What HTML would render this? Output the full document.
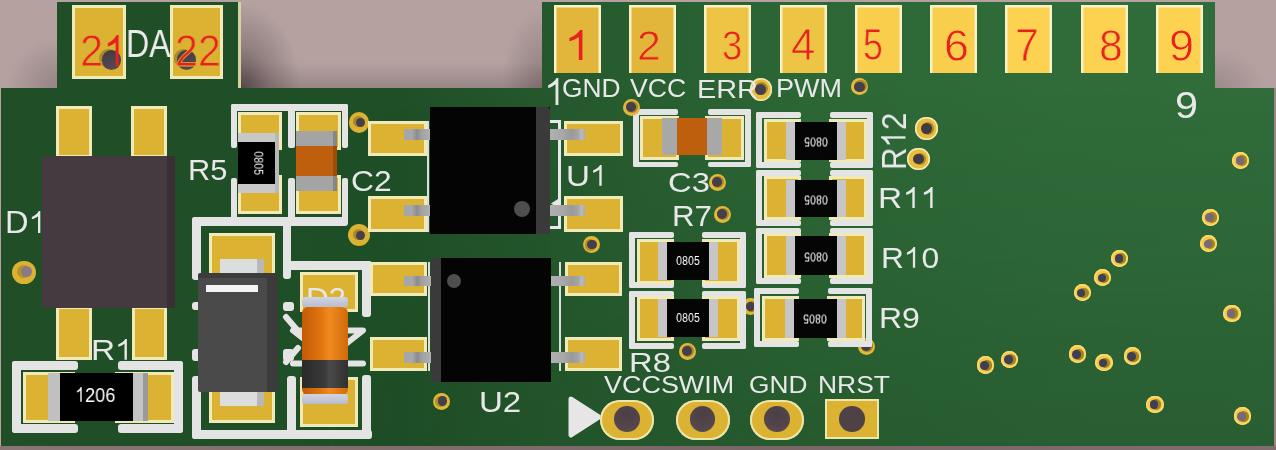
<!DOCTYPE html><html><head><meta charset="utf-8"><style>
html,body{margin:0;padding:0}
body{width:1276px;height:450px;overflow:hidden;position:relative;background:#b4a1a0;font-family:"Liberation Sans",sans-serif}
.a{position:absolute}
.t{line-height:1;white-space:nowrap;will-change:transform}
.one{width:.556em;height:.7em;vertical-align:baseline;fill:currentColor}
</style></head><body>
<div class="a " style="left:0px;top:446px;width:1276px;height:4px;background:linear-gradient(90deg,#8a7474,#7a6666 60%,#806c6c)"></div>
<div class="a " style="left:241px;top:0px;width:301px;height:88px;background:radial-gradient(ellipse 60px 85px at 0% 100%,rgba(50,36,40,.65),rgba(50,36,40,.25) 50%,rgba(50,36,40,0) 100%),linear-gradient(180deg,rgba(60,40,45,0) 70%,rgba(60,40,45,.22) 100%),radial-gradient(ellipse 40px 80px at 100% 100%,rgba(60,40,45,.3),rgba(60,40,45,0) 100%)"></div>
<div class="a " style="left:1215px;top:0px;width:61px;height:88px;background:radial-gradient(ellipse 50px 40px at 0% 100%,rgba(60,40,45,.2),rgba(60,40,45,0) 100%)"></div>
<div class="a " style="left:0px;top:0px;width:57px;height:88px;background:radial-gradient(ellipse 50px 50px at 100% 100%,rgba(60,40,45,.25),rgba(60,40,45,0) 100%)"></div>
<div class="a " style="left:1274px;top:88px;width:2px;height:358px;background:#9a8686"></div>
<div class="a" style="left:0;top:0;width:1276px;height:450px;background:linear-gradient(90deg,#1f4e27 0px,#1f4f27 400px,#265a2e 580px,#2d6736 800px,#306b3a 1050px,#316c3b 1276px);clip-path:polygon(57px 2px,241px 2px,241px 88px,542px 88px,542px 2px,1215px 2px,1215px 88px,1274px 88px,1274px 446px,1px 446px,1px 88px,57px 88px)"></div>
<div class="a" style="left:0;top:0;width:1276px;height:450px;background:linear-gradient(180deg,rgba(10,40,15,0) 90px,rgba(10,40,15,0.08) 250px,rgba(10,40,15,0.2) 446px);-webkit-mask-image:linear-gradient(90deg,transparent 300px,#000 800px);clip-path:polygon(57px 2px,241px 2px,241px 88px,542px 88px,542px 2px,1215px 2px,1215px 88px,1274px 88px,1274px 446px,1px 446px,1px 88px,57px 88px)"></div>
<div class="a " style="left:238px;top:2px;width:3px;height:86px;background:#d6d3a2"></div>
<div class="a " style="left:72px;top:5px;width:54px;height:74px;background:#dcb232;box-shadow:inset 0 0 0 3px #efeab8;"></div>
<div class="a " style="left:170px;top:5px;width:53px;height:74px;background:#dcb232;box-shadow:inset 0 0 0 3px #efeab8;"></div>
<div class="a " style="left:98.75px;top:48.75px;width:19.5px;height:19.5px;border-radius:50%;background:#a88c2c"></div>
<div class="a " style="left:101.75px;top:50.25px;width:19.5px;height:19.5px;border-radius:50%;background:linear-gradient(160deg,#403840,#5a4e56)"></div>
<div class="a " style="left:173.75px;top:48.75px;width:19.5px;height:19.5px;border-radius:50%;background:#a88c2c"></div>
<div class="a " style="left:176.75px;top:50.25px;width:19.5px;height:19.5px;border-radius:50%;background:linear-gradient(160deg,#403840,#5a4e56)"></div>
<div class="a " style="left:56px;top:106px;width:36px;height:52px;background:#dcb232;box-shadow:inset 0 0 0 3px #efeab8;"></div>
<div class="a " style="left:131px;top:106px;width:36px;height:52px;background:#dcb232;box-shadow:inset 0 0 0 3px #efeab8;"></div>
<div class="a " style="left:56px;top:306px;width:36px;height:54px;background:#dcb232;box-shadow:inset 0 0 0 3px #efeab8;"></div>
<div class="a " style="left:132px;top:306px;width:35px;height:54px;background:#dcb232;box-shadow:inset 0 0 0 3px #efeab8;"></div>
<div class="a " style="left:42px;top:156px;width:133px;height:152px;background:#453a3f"></div>
<div class="a " style="left:167px;top:156px;width:8px;height:152px;background:#3a3034"></div>
<div class="a " style="left:12.3px;top:260.6px;width:23.4px;height:23.4px;border-radius:50%;background:#dcb232;"></div>
<div class="a " style="left:17px;top:265.3px;width:13px;height:13px;border-radius:50%;background:#b89428;"></div>
<div class="a " style="left:20.5px;top:266.3px;width:11px;height:11px;border-radius:50%;background:#8a7a88;"></div>
<div class="a " style="left:12px;top:361px;width:66px;height:9px;background:#e4e4e4;border-radius:3px;"></div>
<div class="a " style="left:12px;top:361px;width:9px;height:72px;background:#e4e4e4;border-radius:3px;"></div>
<div class="a " style="left:12px;top:424px;width:66px;height:9px;background:#e4e4e4;border-radius:3px;"></div>
<div class="a " style="left:118px;top:361px;width:65px;height:9px;background:#e4e4e4;border-radius:3px;"></div>
<div class="a " style="left:174px;top:361px;width:9px;height:72px;background:#e4e4e4;border-radius:3px;"></div>
<div class="a " style="left:118px;top:424px;width:65px;height:9px;background:#e4e4e4;border-radius:3px;"></div>
<div class="a " style="left:23px;top:372px;width:52px;height:51px;background:#dcb232;box-shadow:inset 0 0 0 3px #efeab8;"></div>
<div class="a " style="left:115px;top:372px;width:59px;height:51px;background:#dcb232;box-shadow:inset 0 0 0 3px #efeab8;"></div>
<div class="a " style="left:48px;top:373px;width:12px;height:48px;background:#c0c0c0"></div>
<div class="a " style="left:60px;top:373px;width:73px;height:48px;background:#000"></div>
<div class="a " style="left:133px;top:373px;width:15px;height:48px;background:linear-gradient(90deg,#c4c4c4 0 70%,#9a9a9a 70%)"></div>
<div class="a " style="left:231px;top:104px;width:117px;height:7px;background:#e4e4e4;border-radius:2px;"></div>
<div class="a " style="left:231px;top:104px;width:6px;height:44px;background:#e4e4e4;border-radius:2px;"></div>
<div class="a " style="left:231px;top:178px;width:6px;height:44px;background:#e4e4e4;border-radius:2px;"></div>
<div class="a " style="left:288px;top:104px;width:7px;height:44px;background:#e4e4e4;border-radius:2px;"></div>
<div class="a " style="left:288px;top:178px;width:7px;height:44px;background:#e4e4e4;border-radius:2px;"></div>
<div class="a " style="left:342px;top:104px;width:6px;height:44px;background:#e4e4e4;border-radius:2px;"></div>
<div class="a " style="left:342px;top:178px;width:6px;height:44px;background:#e4e4e4;border-radius:2px;"></div>
<div class="a " style="left:238px;top:112px;width:44px;height:38px;background:#dcb232;box-shadow:inset 0 0 0 3px #efeab8;"></div>
<div class="a " style="left:238px;top:175px;width:44px;height:39px;background:#dcb232;box-shadow:inset 0 0 0 3px #efeab8;"></div>
<div class="a " style="left:296px;top:112px;width:45px;height:38px;background:#dcb232;box-shadow:inset 0 0 0 3px #efeab8;"></div>
<div class="a " style="left:296px;top:175px;width:45px;height:39px;background:#dcb232;box-shadow:inset 0 0 0 3px #efeab8;"></div>
<div class="a " style="left:238px;top:133px;width:40px;height:8.5px;background:#c8c8c8"></div>
<div class="a " style="left:238px;top:141.5px;width:40px;height:42.5px;background:#000"></div>
<div class="a " style="left:238px;top:184px;width:40px;height:9px;background:#c8c8c8"></div>
<div class="a " style="left:275px;top:133px;width:4px;height:60px;background:#b8b8b8"></div>
<div class="a " style="left:296px;top:131px;width:41px;height:15px;background:#a4a4a4"></div>
<div class="a " style="left:296px;top:146px;width:41px;height:30px;background:#bd5f0c"></div>
<div class="a " style="left:296px;top:176px;width:41px;height:15px;background:#a4a4a4"></div>
<div class="a " style="left:333px;top:131px;width:4px;height:60px;background:rgba(0,0,0,0.18)"></div>
<div class="a " style="left:348.7px;top:111.8px;width:20.8px;height:20.8px;border-radius:50%;background:#dcb232;"></div>
<div class="a " style="left:353.2px;top:116.3px;width:11.2px;height:11.2px;border-radius:50%;background:#a88a2c;"></div>
<div class="a " style="left:355.7px;top:118.3px;width:9.2px;height:9.2px;border-radius:50%;background:#463e48;"></div>
<div class="a " style="left:192px;top:217px;width:156px;height:9px;background:#e4e4e4;border-radius:3px;"></div>
<div class="a " style="left:192px;top:217px;width:9px;height:63px;background:#e4e4e4;border-radius:3px;"></div>
<div class="a " style="left:192px;top:302px;width:9px;height:8px;background:#e4e4e4;border-radius:3px;"></div>
<div class="a " style="left:192px;top:349px;width:9px;height:12px;background:#e4e4e4;border-radius:3px;"></div>
<div class="a " style="left:192px;top:376px;width:9px;height:63px;background:#e4e4e4;border-radius:3px;"></div>
<div class="a " style="left:283px;top:217px;width:8px;height:62px;background:#e4e4e4;border-radius:3px;"></div>
<div class="a " style="left:283px;top:302px;width:11px;height:9px;background:#e4e4e4;border-radius:3px;"></div>
<div class="a " style="left:283px;top:349px;width:11px;height:12px;background:#e4e4e4;border-radius:3px;"></div>
<div class="a " style="left:283px;top:261px;width:89px;height:9px;background:#e4e4e4;border-radius:3px;"></div>
<div class="a " style="left:287px;top:376px;width:9px;height:63px;background:#e4e4e4;border-radius:3px;"></div>
<div class="a " style="left:362px;top:261px;width:9px;height:56px;background:#e4e4e4;border-radius:3px;"></div>
<div class="a " style="left:362px;top:375px;width:9px;height:64px;background:#e4e4e4;border-radius:3px;"></div>
<div class="a " style="left:192px;top:430px;width:180px;height:9px;background:#e4e4e4;border-radius:3px;"></div>
<svg class="a" style="left:0;top:0" width="1276" height="450"><path d="M293 330.5H363L328 358Z" fill="none" stroke="#e4e4e4" stroke-width="6" stroke-linejoin="round"/><path d="M293 363.5H363" stroke="#e4e4e4" stroke-width="6" stroke-linecap="round"/><path d="M286 317L298 331M286 362L298 348" stroke="#e4e4e4" stroke-width="6" stroke-linecap="round"/></svg>
<div class="a " style="left:209px;top:233px;width:66px;height:43px;background:#dcb232;box-shadow:inset 0 0 0 3px #efeab8;"></div>
<div class="a " style="left:209px;top:388px;width:66px;height:35px;background:#dcb232;box-shadow:inset 0 0 0 3px #efeab8;"></div>
<div class="a " style="left:220px;top:259px;width:44px;height:15px;background:linear-gradient(90deg,#dcdedd 85%,#b8b8b8 85%)"></div>
<div class="a " style="left:220px;top:390px;width:44px;height:16px;background:linear-gradient(90deg,#dcdedd 85%,#b8b8b8 85%)"></div>
<div class="a " style="left:198px;top:273px;width:80px;height:119px;background:linear-gradient(180deg,#3c3c3c 0,#3c3c3c 5px,#4a4a4a 5px);border-radius:2px"></div>
<div class="a " style="left:267px;top:273px;width:11px;height:119px;background:#3b3b3b"></div>
<div class="a " style="left:206px;top:285px;width:52px;height:7px;background:#f4f4f4"></div>
<div class="a " style="left:348.2px;top:223.7px;width:22px;height:22px;border-radius:50%;background:#dcb232;"></div>
<div class="a " style="left:353.3px;top:228.6px;width:11.2px;height:11.2px;border-radius:50%;background:#a88a2c;"></div>
<div class="a " style="left:355.8px;top:230.6px;width:9.2px;height:9.2px;border-radius:50%;background:#463e48;"></div>
<div class="a " style="left:300px;top:271.5px;width:58px;height:40.5px;background:#dcb232;box-shadow:inset 0 0 0 3px #efeab8;"></div>
<div class="a " style="left:300px;top:377px;width:58px;height:50px;background:#dcb232;box-shadow:inset 0 0 0 3px #efeab8;"></div>
<div class="a t" style="left:305.50px;top:282.50px;font-size:30.00px;color:#e8e8e8;transform-origin:0 0;transform:scaleX(1.0435);">D2</div>
<div class="a " style="left:302px;top:297.3px;width:46px;height:10.2px;background:linear-gradient(180deg,#d0d4e4,#b8bccc);border-radius:3px"></div>
<div class="a " style="left:302px;top:307px;width:46px;height:52.5px;background:linear-gradient(90deg,#c45a08 0%,#e0740e 40%,#f08a20 60%,#d06a0a 100%);border-radius:6px 6px 0 0"></div>
<div class="a " style="left:302px;top:359.5px;width:46px;height:28.5px;background:linear-gradient(90deg,#2a2a2a 0%,#3a3a3a 50%,#4a4a4a 60%,#303030 100%)"></div>
<div class="a " style="left:302px;top:388px;width:46px;height:7px;background:linear-gradient(90deg,#c45a08 0%,#e0740e 40%,#f08a20 60%,#d06a0a 100%);border-radius:0 0 6px 6px"></div>
<div class="a " style="left:302px;top:394px;width:46px;height:9.6px;background:linear-gradient(180deg,#d0d4e4,#b8bccc);border-radius:3px"></div>
<div class="a " style="left:427px;top:121px;width:2px;height:111px;background:#ddd"></div>
<div class="a " style="left:558px;top:120px;width:3px;height:109px;background:#e8e8e8"></div>
<div class="a " style="left:550px;top:120px;width:11px;height:3px;background:#e8e8e8"></div>
<div class="a " style="left:550px;top:226px;width:11px;height:3px;background:#e8e8e8"></div>
<svg class="a" style="left:550px;top:198px" width="9" height="11"><path d="M1 5.5L8 1V10Z" fill="#e8e8e8"/></svg>
<div class="a " style="left:368px;top:120.5px;width:59px;height:35.2px;background:#dcb232;box-shadow:inset 0 0 0 3px #efeab8;"></div>
<div class="a " style="left:368px;top:196px;width:59px;height:36px;background:#dcb232;box-shadow:inset 0 0 0 3px #efeab8;"></div>
<div class="a " style="left:564px;top:120.5px;width:59px;height:35.2px;background:#dcb232;box-shadow:inset 0 0 0 3px #efeab8;"></div>
<div class="a " style="left:564px;top:196px;width:59px;height:36px;background:#dcb232;box-shadow:inset 0 0 0 3px #efeab8;"></div>
<div class="a " style="left:403.6px;top:128.6px;width:26.4px;height:11.4px;background:linear-gradient(90deg,#a4a6aa 0,#a8a8a8 30%,#8c8c8c 50%,#a0a0a0 65%,#b0b0b0 100%)"></div>
<div class="a " style="left:550px;top:128.6px;width:34.6px;height:11.4px;background:linear-gradient(90deg,#b0b0b0 0,#a8a8a8 35%,#9a9a9a 60%,#a4a4a4 80%,#b8babc 90%,#a8aaae 100%)"></div>
<div class="a " style="left:403.6px;top:204.5px;width:26.4px;height:11.8px;background:linear-gradient(90deg,#a4a6aa 0,#a8a8a8 30%,#8c8c8c 50%,#a0a0a0 65%,#b0b0b0 100%)"></div>
<div class="a " style="left:550px;top:204.5px;width:34.6px;height:11.8px;background:linear-gradient(90deg,#b0b0b0 0,#a8a8a8 35%,#9a9a9a 60%,#a4a4a4 80%,#b8babc 90%,#a8aaae 100%)"></div>
<div class="a " style="left:430px;top:107px;width:120.4px;height:126.5px;background:#040404"></div>
<div class="a " style="left:536px;top:107px;width:14.4px;height:126.5px;background:#3a3a3a;border-radius:0 3px 0 0"></div>
<div class="a " style="left:514px;top:201px;width:16px;height:16px;background:#4e4e4e;border-radius:50%"></div>
<div class="a " style="left:428px;top:262px;width:2px;height:109px;background:#ddd"></div>
<div class="a " style="left:559px;top:262px;width:2px;height:109px;background:#ddd"></div>
<div class="a " style="left:370px;top:262px;width:57.2px;height:34px;background:#dcb232;box-shadow:inset 0 0 0 3px #efeab8;"></div>
<div class="a " style="left:370px;top:336.8px;width:57.2px;height:34.4px;background:#dcb232;box-shadow:inset 0 0 0 3px #efeab8;"></div>
<div class="a " style="left:564.8px;top:262px;width:57.2px;height:34px;background:#dcb232;box-shadow:inset 0 0 0 3px #efeab8;"></div>
<div class="a " style="left:564.8px;top:336.8px;width:57.2px;height:34.4px;background:#dcb232;box-shadow:inset 0 0 0 3px #efeab8;"></div>
<div class="a " style="left:404px;top:276px;width:27.2px;height:10px;background:linear-gradient(90deg,#a4a6aa 0,#a8a8a8 30%,#8c8c8c 50%,#a0a0a0 65%,#b0b0b0 100%)"></div>
<div class="a " style="left:551px;top:276px;width:33.8px;height:10px;background:linear-gradient(90deg,#b0b0b0 0,#a8a8a8 35%,#9a9a9a 60%,#a4a4a4 80%,#b8babc 90%,#a8aaae 100%)"></div>
<div class="a " style="left:404px;top:352px;width:27.2px;height:11px;background:linear-gradient(90deg,#a4a6aa 0,#a8a8a8 30%,#8c8c8c 50%,#a0a0a0 65%,#b0b0b0 100%)"></div>
<div class="a " style="left:551px;top:352px;width:33.8px;height:11px;background:linear-gradient(90deg,#b0b0b0 0,#a8a8a8 35%,#9a9a9a 60%,#a4a4a4 80%,#b8babc 90%,#a8aaae 100%)"></div>
<div class="a " style="left:431.2px;top:258px;width:120px;height:124px;background:#040404"></div>
<div class="a " style="left:431.2px;top:258px;width:9.6px;height:124px;background:#3a3a3a"></div>
<div class="a " style="left:447px;top:274px;width:14px;height:14px;background:#4e4e4e;border-radius:50%"></div>
<div class="a " style="left:433.2px;top:392.9px;width:16.8px;height:16.8px;border-radius:50%;background:#e0b834;"></div>
<div class="a " style="left:435.1px;top:395.7px;width:11.4px;height:11.4px;border-radius:50%;background:#b0902c;"></div>
<div class="a " style="left:437.6px;top:396.2px;width:9.4px;height:9.4px;border-radius:50%;background:#463e48;"></div>
<div class="a " style="left:582.8px;top:236.4px;width:16.8px;height:16.8px;border-radius:50%;background:#e0b834;"></div>
<div class="a " style="left:584.7px;top:239.2px;width:11.4px;height:11.4px;border-radius:50%;background:#b0902c;"></div>
<div class="a " style="left:587.2px;top:239.7px;width:9.4px;height:9.4px;border-radius:50%;background:#463e48;"></div>
<div class="a " style="left:554px;top:5px;width:47px;height:68px;background:#e2b63a;box-shadow:inset 2.5px 2.5px 0 #f8f2c8,inset -2.5px 0 0 #f8f2c8"></div>
<div class="a " style="left:629.3px;top:5px;width:47px;height:68px;background:#e2b63a;box-shadow:inset 2.5px 2.5px 0 #f8f2c8,inset -2.5px 0 0 #f8f2c8"></div>
<div class="a " style="left:704.2px;top:5px;width:47px;height:68px;background:#eec444;box-shadow:inset 2.5px 2.5px 0 #f8f2c8,inset -2.5px 0 0 #f8f2c8"></div>
<div class="a " style="left:780px;top:5px;width:47px;height:68px;background:#eec444;box-shadow:inset 2.5px 2.5px 0 #f8f2c8,inset -2.5px 0 0 #f8f2c8"></div>
<div class="a " style="left:855px;top:5px;width:47px;height:68px;background:#f8ce4c;box-shadow:inset 2.5px 2.5px 0 #f8f2c8,inset -2.5px 0 0 #f8f2c8"></div>
<div class="a " style="left:930px;top:5px;width:47px;height:68px;background:#f8ce4c;box-shadow:inset 2.5px 2.5px 0 #f8f2c8,inset -2.5px 0 0 #f8f2c8"></div>
<div class="a " style="left:1005.2px;top:5px;width:47px;height:68px;background:#fcd250;box-shadow:inset 2.5px 2.5px 0 #f8f2c8,inset -2.5px 0 0 #f8f2c8"></div>
<div class="a " style="left:1080.6px;top:5px;width:47px;height:68px;background:#fcd250;box-shadow:inset 2.5px 2.5px 0 #f8f2c8,inset -2.5px 0 0 #f8f2c8"></div>
<div class="a " style="left:1155.7px;top:5px;width:47px;height:68px;background:#fcd250;box-shadow:inset 2.5px 2.5px 0 #f8f2c8,inset -2.5px 0 0 #f8f2c8"></div>
<div class="a " style="left:750px;top:78.3px;width:22.4px;height:22.4px;border-radius:50%;background:#e8bc3c;box-shadow:inset 0 0 0 1.5px #f0e8b8;"></div>
<div class="a " style="left:754.9px;top:82.2px;width:13.2px;height:13.2px;border-radius:50%;background:#a88a2a;"></div>
<div class="a " style="left:754.9px;top:84.2px;width:11.2px;height:11.2px;border-radius:50%;background:#463e48;"></div>
<div class="a " style="left:851.4px;top:78.1px;width:17px;height:17px;border-radius:50%;background:#e8bc3c;"></div>
<div class="a " style="left:854.3px;top:79.5px;width:12.6px;height:12.6px;border-radius:50%;background:#a88a2a;"></div>
<div class="a " style="left:854.3px;top:81.5px;width:10.6px;height:10.6px;border-radius:50%;background:#463e48;"></div>
<div class="a " style="left:633px;top:109px;width:45px;height:6px;background:#e4e4e4;border-radius:2px;"></div>
<div class="a " style="left:633px;top:109px;width:6px;height:58.4px;background:#e4e4e4;border-radius:2px;"></div>
<div class="a " style="left:633px;top:162px;width:45px;height:5.4px;background:#e4e4e4;border-radius:2px;"></div>
<div class="a " style="left:708px;top:109px;width:43px;height:6px;background:#e4e4e4;border-radius:2px;"></div>
<div class="a " style="left:745px;top:109px;width:6px;height:58.4px;background:#e4e4e4;border-radius:2px;"></div>
<div class="a " style="left:708px;top:162px;width:43px;height:5.4px;background:#e4e4e4;border-radius:2px;"></div>
<div class="a " style="left:640px;top:116px;width:39px;height:44px;background:#dcb232;box-shadow:inset 0 0 0 3px #efeab8;"></div>
<div class="a " style="left:705px;top:116px;width:39px;height:44px;background:#dcb232;box-shadow:inset 0 0 0 3px #efeab8;"></div>
<div class="a " style="left:662px;top:118px;width:15px;height:37px;background:#a8a8a8"></div>
<div class="a " style="left:677px;top:118px;width:30px;height:37px;background:#bd5f0c"></div>
<div class="a " style="left:707px;top:118px;width:15px;height:37px;background:#a8a8a8"></div>
<div class="a " style="left:622.5px;top:98.5px;width:17px;height:17px;border-radius:50%;background:#e2b83a;"></div>
<div class="a " style="left:626px;top:101px;width:12px;height:12px;border-radius:50%;background:#a8882c;"></div>
<div class="a " style="left:626px;top:102px;width:10px;height:10px;border-radius:50%;background:#463e48;"></div>
<div class="a " style="left:708.5px;top:173.5px;width:17px;height:17px;border-radius:50%;background:#e2b83a;"></div>
<div class="a " style="left:712px;top:176px;width:12px;height:12px;border-radius:50%;background:#a8882c;"></div>
<div class="a " style="left:712px;top:177px;width:10px;height:10px;border-radius:50%;background:#463e48;"></div>
<div class="a " style="left:713.5px;top:205.5px;width:17px;height:17px;border-radius:50%;background:#e2b83a;"></div>
<div class="a " style="left:717px;top:208px;width:12px;height:12px;border-radius:50%;background:#a8882c;"></div>
<div class="a " style="left:717px;top:209px;width:10px;height:10px;border-radius:50%;background:#463e48;"></div>
<div class="a " style="left:742.4px;top:298.4px;width:16.8px;height:16.8px;border-radius:50%;background:#e0b834;"></div>
<div class="a " style="left:746.3px;top:301.3px;width:11px;height:11px;border-radius:50%;background:#a0802a;"></div>
<div class="a " style="left:746.3px;top:302.3px;width:9px;height:9px;border-radius:50%;background:#463e48;"></div>
<div class="a " style="left:857.5px;top:337.5px;width:17px;height:17px;border-radius:50%;background:#e0b834;"></div>
<div class="a " style="left:861px;top:340px;width:12px;height:12px;border-radius:50%;background:#a0802a;"></div>
<div class="a " style="left:861px;top:341px;width:10px;height:10px;border-radius:50%;background:#463e48;"></div>
<div class="a " style="left:756px;top:112px;width:45px;height:6px;background:#e4e4e4;border-radius:2px;"></div>
<div class="a " style="left:830px;top:112px;width:43px;height:6px;background:#e4e4e4;border-radius:2px;"></div>
<div class="a " style="left:756px;top:162px;width:45px;height:6px;background:#e4e4e4;border-radius:2px;"></div>
<div class="a " style="left:830px;top:162px;width:43px;height:6px;background:#e4e4e4;border-radius:2px;"></div>
<div class="a " style="left:756px;top:112px;width:6px;height:56px;background:#e4e4e4;border-radius:2px;"></div>
<div class="a " style="left:867px;top:112px;width:6px;height:56px;background:#e4e4e4;border-radius:2px;"></div>
<div class="a " style="left:763.8px;top:118.9px;width:37.2px;height:43.3px;background:#dcb232;box-shadow:inset 0 0 0 3px #efeab8;"></div>
<div class="a " style="left:828.9px;top:118.9px;width:37.8px;height:43.3px;background:#dcb232;box-shadow:inset 0 0 0 3px #efeab8;"></div>
<div class="a " style="left:785.6px;top:121.8px;width:9px;height:37.8px;background:#c6c6c6"></div>
<div class="a " style="left:794.6px;top:121.8px;width:42.4px;height:37.8px;background:#050505"></div>
<div class="a " style="left:837px;top:121.8px;width:9px;height:37.8px;background:#c6c6c6"></div>
<div class="a " style="left:756px;top:170px;width:45px;height:6px;background:#e4e4e4;border-radius:2px;"></div>
<div class="a " style="left:830px;top:170px;width:43px;height:6px;background:#e4e4e4;border-radius:2px;"></div>
<div class="a " style="left:756px;top:220px;width:45px;height:6px;background:#e4e4e4;border-radius:2px;"></div>
<div class="a " style="left:830px;top:220px;width:43px;height:6px;background:#e4e4e4;border-radius:2px;"></div>
<div class="a " style="left:756px;top:170px;width:6px;height:56px;background:#e4e4e4;border-radius:2px;"></div>
<div class="a " style="left:867px;top:170px;width:6px;height:56px;background:#e4e4e4;border-radius:2px;"></div>
<div class="a " style="left:763.8px;top:176.4px;width:37.2px;height:44.1px;background:#dcb232;box-shadow:inset 0 0 0 3px #efeab8;"></div>
<div class="a " style="left:828.9px;top:176.4px;width:37.8px;height:44.1px;background:#dcb232;box-shadow:inset 0 0 0 3px #efeab8;"></div>
<div class="a " style="left:785.6px;top:180px;width:9px;height:37.2px;background:#c6c6c6"></div>
<div class="a " style="left:794.6px;top:180px;width:42.4px;height:37.2px;background:#050505"></div>
<div class="a " style="left:837px;top:180px;width:9px;height:37.2px;background:#c6c6c6"></div>
<div class="a " style="left:756px;top:228px;width:45px;height:6px;background:#e4e4e4;border-radius:2px;"></div>
<div class="a " style="left:830px;top:228px;width:43px;height:6px;background:#e4e4e4;border-radius:2px;"></div>
<div class="a " style="left:756px;top:278px;width:45px;height:6px;background:#e4e4e4;border-radius:2px;"></div>
<div class="a " style="left:830px;top:278px;width:43px;height:6px;background:#e4e4e4;border-radius:2px;"></div>
<div class="a " style="left:756px;top:228px;width:6px;height:56px;background:#e4e4e4;border-radius:2px;"></div>
<div class="a " style="left:867px;top:228px;width:6px;height:56px;background:#e4e4e4;border-radius:2px;"></div>
<div class="a " style="left:763.8px;top:232.5px;width:37.2px;height:45px;background:#dcb232;box-shadow:inset 0 0 0 3px #efeab8;"></div>
<div class="a " style="left:828.9px;top:232.5px;width:37.8px;height:45px;background:#dcb232;box-shadow:inset 0 0 0 3px #efeab8;"></div>
<div class="a " style="left:785.6px;top:236.4px;width:9px;height:38.3px;background:#c6c6c6"></div>
<div class="a " style="left:794.6px;top:236.4px;width:42.4px;height:38.3px;background:#050505"></div>
<div class="a " style="left:837px;top:236.4px;width:9px;height:38.3px;background:#c6c6c6"></div>
<div class="a " style="left:754px;top:288px;width:45px;height:6px;background:#e4e4e4;border-radius:2px;"></div>
<div class="a " style="left:828px;top:288px;width:44px;height:6px;background:#e4e4e4;border-radius:2px;"></div>
<div class="a " style="left:754px;top:341px;width:45px;height:6px;background:#e4e4e4;border-radius:2px;"></div>
<div class="a " style="left:828px;top:341px;width:44px;height:6px;background:#e4e4e4;border-radius:2px;"></div>
<div class="a " style="left:754px;top:288px;width:6px;height:59px;background:#e4e4e4;border-radius:2px;"></div>
<div class="a " style="left:866px;top:288px;width:6px;height:59px;background:#e4e4e4;border-radius:2px;"></div>
<div class="a " style="left:762px;top:296px;width:37px;height:45.2px;background:#dcb232;box-shadow:inset 0 0 0 3px #efeab8;"></div>
<div class="a " style="left:827px;top:296px;width:38px;height:45.2px;background:#dcb232;box-shadow:inset 0 0 0 3px #efeab8;"></div>
<div class="a " style="left:784.8px;top:299.1px;width:9px;height:38.7px;background:#c6c6c6"></div>
<div class="a " style="left:793.8px;top:299.1px;width:43.2px;height:38.7px;background:#050505"></div>
<div class="a " style="left:837px;top:299.1px;width:9px;height:38.7px;background:#c6c6c6"></div>
<div class="a " style="left:629px;top:232px;width:45px;height:6px;background:#e4e4e4;border-radius:2px;"></div>
<div class="a " style="left:702px;top:232px;width:44px;height:6px;background:#e4e4e4;border-radius:2px;"></div>
<div class="a " style="left:629px;top:282px;width:45px;height:6px;background:#e4e4e4;border-radius:2px;"></div>
<div class="a " style="left:702px;top:282px;width:44px;height:6px;background:#e4e4e4;border-radius:2px;"></div>
<div class="a " style="left:629px;top:232px;width:6px;height:56px;background:#e4e4e4;border-radius:2px;"></div>
<div class="a " style="left:740px;top:232px;width:6px;height:56px;background:#e4e4e4;border-radius:2px;"></div>
<div class="a " style="left:636.5px;top:238.5px;width:37.5px;height:45px;background:#dcb232;box-shadow:inset 0 0 0 3px #efeab8;"></div>
<div class="a " style="left:702px;top:238.5px;width:38px;height:45px;background:#dcb232;box-shadow:inset 0 0 0 3px #efeab8;"></div>
<div class="a " style="left:657.5px;top:242.2px;width:9px;height:37.8px;background:#c6c6c6"></div>
<div class="a " style="left:666.5px;top:242.2px;width:42.9px;height:37.8px;background:#050505"></div>
<div class="a " style="left:709.4px;top:242.2px;width:9px;height:37.8px;background:#c6c6c6"></div>
<div class="a " style="left:629px;top:291px;width:45px;height:6px;background:#e4e4e4;border-radius:2px;"></div>
<div class="a " style="left:702px;top:291px;width:44px;height:6px;background:#e4e4e4;border-radius:2px;"></div>
<div class="a " style="left:629px;top:343px;width:45px;height:6px;background:#e4e4e4;border-radius:2px;"></div>
<div class="a " style="left:702px;top:343px;width:44px;height:6px;background:#e4e4e4;border-radius:2px;"></div>
<div class="a " style="left:629px;top:291px;width:6px;height:58px;background:#e4e4e4;border-radius:2px;"></div>
<div class="a " style="left:740px;top:291px;width:6px;height:58px;background:#e4e4e4;border-radius:2px;"></div>
<div class="a " style="left:636.5px;top:296px;width:37.5px;height:45.2px;background:#dcb232;box-shadow:inset 0 0 0 3px #efeab8;"></div>
<div class="a " style="left:702px;top:296px;width:38px;height:45.2px;background:#dcb232;box-shadow:inset 0 0 0 3px #efeab8;"></div>
<div class="a " style="left:657.5px;top:299.1px;width:9px;height:37.8px;background:#c6c6c6"></div>
<div class="a " style="left:666.5px;top:299.1px;width:42.9px;height:37.8px;background:#050505"></div>
<div class="a " style="left:709.4px;top:299.1px;width:9px;height:37.8px;background:#c6c6c6"></div>
<div class="a " style="left:678.5px;top:342.5px;width:17px;height:17px;border-radius:50%;background:#e2b83a;"></div>
<div class="a " style="left:682px;top:345px;width:12px;height:12px;border-radius:50%;background:#a8882c;"></div>
<div class="a " style="left:682px;top:346px;width:10px;height:10px;border-radius:50%;background:#463e48;"></div>
<div class="a " style="left:915.2px;top:117.2px;width:22.6px;height:22.6px;border-radius:50%;background:#e8bc3c;box-shadow:inset 0 0 0 1.5px #f2eab8;"></div>
<div class="a " style="left:921.6px;top:122.1px;width:12.8px;height:12.8px;border-radius:50%;background:#b08a22;"></div>
<div class="a " style="left:921.1px;top:123.1px;width:10.8px;height:10.8px;border-radius:50%;background:#403a42;"></div>
<div class="a " style="left:907.2px;top:147.5px;width:22.8px;height:22.8px;border-radius:50%;background:#e8bc3c;box-shadow:inset 0 0 0 1.5px #f2eab8;"></div>
<div class="a " style="left:913.7px;top:152.5px;width:12.8px;height:12.8px;border-radius:50%;background:#b08a22;"></div>
<div class="a " style="left:913.2px;top:153.5px;width:10.8px;height:10.8px;border-radius:50%;background:#403a42;"></div>
<svg class="a" style="left:566px;top:394px" width="36" height="46"><path d="M5 5 L33 23 L5 41 Z" fill="#e6e6e6" stroke="#e6e6e6" stroke-width="5" stroke-linejoin="round"/></svg>
<div class="a " style="left:600.2px;top:399.6px;width:54px;height:40px;background:#dcb232;border-radius:20px;box-shadow:inset 0 0 0 2px #ece6b0"></div>
<div class="a " style="left:614.4px;top:406.2px;width:25.6px;height:25.6px;background:radial-gradient(circle at 50% 30%,#4a3e44,#5a4c50);border-radius:50%"></div>
<div class="a " style="left:675.6px;top:399.6px;width:54px;height:40px;background:#dcb232;border-radius:20px;box-shadow:inset 0 0 0 2px #ece6b0"></div>
<div class="a " style="left:689.8px;top:406.2px;width:25.6px;height:25.6px;background:radial-gradient(circle at 50% 30%,#4a3e44,#5a4c50);border-radius:50%"></div>
<div class="a " style="left:750px;top:399.6px;width:54px;height:40px;background:#dcb232;border-radius:20px;box-shadow:inset 0 0 0 2px #ece6b0"></div>
<div class="a " style="left:764.2px;top:406.2px;width:25.6px;height:25.6px;background:radial-gradient(circle at 50% 30%,#4a3e44,#5a4c50);border-radius:50%"></div>
<div class="a " style="left:825px;top:399px;width:54px;height:40px;background:#dcb232;box-shadow:inset 0 0 0 2px #ece6b0"></div>
<div class="a " style="left:839px;top:406.2px;width:25.6px;height:25.6px;background:#4e4246;border-radius:50%"></div>
<div class="a " style="left:1232.2px;top:151.7px;width:17.2px;height:17.2px;border-radius:50%;background:#f4c84a;box-shadow:inset 0 0 0 1.5px #fcdc6c;"></div>
<div class="a " style="left:1236.7px;top:155.3px;width:10.6px;height:10.6px;border-radius:50%;background:#a08420;"></div>
<div class="a " style="left:1235.5px;top:156.3px;width:8.6px;height:8.6px;border-radius:50%;background:#786878;"></div>
<div class="a " style="left:1202px;top:208.5px;width:17.2px;height:17.2px;border-radius:50%;background:#f4c84a;box-shadow:inset 0 0 0 1.5px #fcdc6c;"></div>
<div class="a " style="left:1206.5px;top:212.1px;width:10.6px;height:10.6px;border-radius:50%;background:#a08420;"></div>
<div class="a " style="left:1205.3px;top:213.1px;width:8.6px;height:8.6px;border-radius:50%;background:#786878;"></div>
<div class="a " style="left:1200.2px;top:235.2px;width:17.2px;height:17.2px;border-radius:50%;background:#f4c84a;box-shadow:inset 0 0 0 1.5px #fcdc6c;"></div>
<div class="a " style="left:1204.7px;top:238.8px;width:10.6px;height:10.6px;border-radius:50%;background:#a08420;"></div>
<div class="a " style="left:1203.5px;top:239.8px;width:8.6px;height:8.6px;border-radius:50%;background:#786878;"></div>
<div class="a " style="left:1111.3px;top:249.8px;width:17.2px;height:17.2px;border-radius:50%;background:#f4c84a;box-shadow:inset 0 0 0 1.5px #fcdc6c;"></div>
<div class="a " style="left:1115.8px;top:253.4px;width:10.6px;height:10.6px;border-radius:50%;background:#a08420;"></div>
<div class="a " style="left:1114.6px;top:254.4px;width:8.6px;height:8.6px;border-radius:50%;background:#3e3e56;"></div>
<div class="a " style="left:1094.3px;top:269px;width:17.2px;height:17.2px;border-radius:50%;background:#f4c84a;box-shadow:inset 0 0 0 1.5px #fcdc6c;"></div>
<div class="a " style="left:1098.8px;top:272.6px;width:10.6px;height:10.6px;border-radius:50%;background:#a08420;"></div>
<div class="a " style="left:1097.6px;top:273.6px;width:8.6px;height:8.6px;border-radius:50%;background:#3e3e56;"></div>
<div class="a " style="left:1073.6px;top:284.3px;width:17.2px;height:17.2px;border-radius:50%;background:#f4c84a;box-shadow:inset 0 0 0 1.5px #fcdc6c;"></div>
<div class="a " style="left:1078.1px;top:287.9px;width:10.6px;height:10.6px;border-radius:50%;background:#a08420;"></div>
<div class="a " style="left:1076.9px;top:288.9px;width:8.6px;height:8.6px;border-radius:50%;background:#3e3e56;"></div>
<div class="a " style="left:1223.4px;top:304.7px;width:17.2px;height:17.2px;border-radius:50%;background:#f4c84a;box-shadow:inset 0 0 0 1.5px #fcdc6c;"></div>
<div class="a " style="left:1227.9px;top:308.3px;width:10.6px;height:10.6px;border-radius:50%;background:#a08420;"></div>
<div class="a " style="left:1226.7px;top:309.3px;width:8.6px;height:8.6px;border-radius:50%;background:#786878;"></div>
<div class="a " style="left:977.1px;top:356.4px;width:17.2px;height:17.2px;border-radius:50%;background:#f4c84a;box-shadow:inset 0 0 0 1.5px #fcdc6c;"></div>
<div class="a " style="left:981.6px;top:360px;width:10.6px;height:10.6px;border-radius:50%;background:#a08420;"></div>
<div class="a " style="left:980.4px;top:361px;width:8.6px;height:8.6px;border-radius:50%;background:#3e3e56;"></div>
<div class="a " style="left:1000.7px;top:350.7px;width:17.2px;height:17.2px;border-radius:50%;background:#f4c84a;box-shadow:inset 0 0 0 1.5px #fcdc6c;"></div>
<div class="a " style="left:1005.2px;top:354.3px;width:10.6px;height:10.6px;border-radius:50%;background:#a08420;"></div>
<div class="a " style="left:1004px;top:355.3px;width:8.6px;height:8.6px;border-radius:50%;background:#3e3e56;"></div>
<div class="a " style="left:1068.7px;top:345.4px;width:17.2px;height:17.2px;border-radius:50%;background:#f4c84a;box-shadow:inset 0 0 0 1.5px #fcdc6c;"></div>
<div class="a " style="left:1073.2px;top:349px;width:10.6px;height:10.6px;border-radius:50%;background:#a08420;"></div>
<div class="a " style="left:1072px;top:350px;width:8.6px;height:8.6px;border-radius:50%;background:#3e3e56;"></div>
<div class="a " style="left:1095.4px;top:354.1px;width:17.2px;height:17.2px;border-radius:50%;background:#f4c84a;box-shadow:inset 0 0 0 1.5px #fcdc6c;"></div>
<div class="a " style="left:1099.9px;top:357.7px;width:10.6px;height:10.6px;border-radius:50%;background:#a08420;"></div>
<div class="a " style="left:1098.7px;top:358.7px;width:8.6px;height:8.6px;border-radius:50%;background:#3e3e56;"></div>
<div class="a " style="left:1123.7px;top:347.4px;width:17.2px;height:17.2px;border-radius:50%;background:#f4c84a;box-shadow:inset 0 0 0 1.5px #fcdc6c;"></div>
<div class="a " style="left:1128.2px;top:351px;width:10.6px;height:10.6px;border-radius:50%;background:#a08420;"></div>
<div class="a " style="left:1127px;top:352px;width:8.6px;height:8.6px;border-radius:50%;background:#3e3e56;"></div>
<div class="a " style="left:1146.4px;top:395.7px;width:17.2px;height:17.2px;border-radius:50%;background:#f4c84a;box-shadow:inset 0 0 0 1.5px #fcdc6c;"></div>
<div class="a " style="left:1150.9px;top:399.3px;width:10.6px;height:10.6px;border-radius:50%;background:#a08420;"></div>
<div class="a " style="left:1149.7px;top:400.3px;width:8.6px;height:8.6px;border-radius:50%;background:#3e3e56;"></div>
<div class="a " style="left:1233.7px;top:407.4px;width:17.2px;height:17.2px;border-radius:50%;background:#f4c84a;box-shadow:inset 0 0 0 1.5px #fcdc6c;"></div>
<div class="a " style="left:1238.2px;top:411px;width:10.6px;height:10.6px;border-radius:50%;background:#a08420;"></div>
<div class="a " style="left:1237px;top:412px;width:8.6px;height:8.6px;border-radius:50%;background:#786878;"></div>
<div class="a t" style="left:80.43px;top:29.36px;font-size:44.29px;color:#e8201e;transform-origin:0 0;transform:scaleX(0.9366);-webkit-text-stroke:0.8px #dcb232;">2<svg class="one" viewBox="0 0 556 716" preserveAspectRatio="none"><path d="M366 716H294V168Q262 198 210 226T106 266V190Q179 155 236 105T318 0H366Z"/></svg></div>
<div class="a t" style="left:174.55px;top:29.36px;font-size:44.29px;color:#e8201e;transform-origin:0 0;transform:scaleX(0.9256);-webkit-text-stroke:0.8px #dcb232;">22</div>
<div class="a t" style="left:126.33px;top:24.27px;font-size:39.57px;color:#ececec;transform-origin:0 0;transform:scaleX(0.8123);">DA</div>
<div class="a t" style="left:4.69px;top:206.18px;font-size:32.14px;color:#e8e8e8;transform-origin:0 0;transform:scaleX(1.0165);">D<svg class="one" viewBox="0 0 556 716" preserveAspectRatio="none"><path d="M366 716H294V168Q262 198 210 226T106 266V190Q179 155 236 105T318 0H366Z"/></svg></div>
<div class="a t" style="left:75.49px;top:384.13px;font-size:21.13px;color:#ffffff;transform-origin:0 0;transform:scaleX(0.8579);"><svg class="one" viewBox="0 0 556 716" preserveAspectRatio="none"><path d="M366 716H294V168Q262 198 210 226T106 266V190Q179 155 236 105T318 0H366Z"/></svg>206</div>
<div class="a t" style="left:91.33px;top:334.86px;font-size:29.57px;color:#e8e8e8;transform-origin:0 0;transform:scaleX(1.1283);">R<svg class="one" viewBox="0 0 556 716" preserveAspectRatio="none"><path d="M366 716H294V168Q262 198 210 226T106 266V190Q179 155 236 105T318 0H366Z"/></svg></div>
<div class="a t" style="left:238px;top:157px;font-size:12.5px;color:#f4f4f4;width:40px;text-align:center;transform:rotate(90deg) scaleX(0.85)">0805</div>
<div class="a t" style="left:187.54px;top:155.41px;font-size:29.30px;color:#e8e8e8;transform-origin:0 0;transform:scaleX(1.0505);">R5</div>
<div class="a t" style="left:350.91px;top:165.56px;font-size:29.58px;color:#e8e8e8;transform-origin:0 0;transform:scaleX(1.0745);">C2</div>
<div class="a t" style="left:565.85px;top:160.56px;font-size:29.58px;color:#e8e8e8;transform-origin:0 0;transform:scaleX(1.1214);">U<svg class="one" viewBox="0 0 556 716" preserveAspectRatio="none"><path d="M366 716H294V168Q262 198 210 226T106 266V190Q179 155 236 105T318 0H366Z"/></svg></div>
<div class="a t" style="left:479.36px;top:386.56px;font-size:29.58px;color:#e8e8e8;transform-origin:0 0;transform:scaleX(1.1172);">U2</div>
<div class="a t" style="left:563.96px;top:24.17px;font-size:42.86px;color:#e8201e;transform-origin:0 0;transform:scaleX(1.1753);-webkit-text-stroke:0.8px #e2b63a;"><svg class="one" viewBox="0 0 556 716" preserveAspectRatio="none"><path d="M366 716H294V168Q262 198 210 226T106 266V190Q179 155 236 105T318 0H366Z"/></svg></div>
<div class="a t" style="left:636.67px;top:24.17px;font-size:42.86px;color:#e8201e;transform-origin:0 0;transform:scaleX(0.9942);-webkit-text-stroke:0.8px #e2b63a;">2</div>
<div class="a t" style="left:721.54px;top:23.54px;font-size:43.10px;color:#e8201e;transform-origin:0 0;transform:scaleX(0.8442);-webkit-text-stroke:0.8px #eec444;">3</div>
<div class="a t" style="left:790.64px;top:23.44px;font-size:43.71px;color:#e8201e;transform-origin:0 0;transform:scaleX(0.9868);-webkit-text-stroke:0.8px #eec444;">4</div>
<div class="a t" style="left:863.37px;top:23.01px;font-size:43.71px;color:#e8201e;transform-origin:0 0;transform:scaleX(0.8197);-webkit-text-stroke:0.8px #f8ce4c;">5</div>
<div class="a t" style="left:944.36px;top:22.78px;font-size:44.79px;color:#e8201e;transform-origin:0 0;transform:scaleX(0.9999);-webkit-text-stroke:0.8px #f8ce4c;">6</div>
<div class="a t" style="left:1015.16px;top:22.69px;font-size:45.43px;color:#e8201e;transform-origin:0 0;transform:scaleX(0.9427);-webkit-text-stroke:0.8px #fcd250;">7</div>
<div class="a t" style="left:1098.59px;top:22.78px;font-size:44.79px;color:#e8201e;transform-origin:0 0;transform:scaleX(0.9548);-webkit-text-stroke:0.8px #fcd250;">8</div>
<div class="a t" style="left:1168.75px;top:22.78px;font-size:44.79px;color:#e8201e;transform-origin:0 0;transform:scaleX(1.0047);-webkit-text-stroke:0.8px #fcd250;">9</div>
<div class="a t" style="left:544.37px;top:72.94px;font-size:38.43px;color:#e8e8e8;transform-origin:0 0;transform:scaleX(1.0216);"><svg class="one" viewBox="0 0 556 716" preserveAspectRatio="none"><path d="M366 716H294V168Q262 198 210 226T106 266V190Q179 155 236 105T318 0H366Z"/></svg></div>
<div class="a t" style="left:561.68px;top:75.63px;font-size:25.77px;color:#e8e8e8;transform-origin:0 0;transform:scaleX(1.0237);">GND</div>
<div class="a t" style="left:630.20px;top:75.63px;font-size:25.77px;color:#e8e8e8;transform-origin:0 0;transform:scaleX(1.0327);">VCC</div>
<div class="a t" style="left:697.49px;top:75.58px;font-size:26.14px;color:#e8e8e8;transform-origin:0 0;transform:scaleX(1.1050);">ERR</div>
<div class="a t" style="left:775.84px;top:75.26px;font-size:26.52px;color:#e8e8e8;transform-origin:0 0;transform:scaleX(1.0187);">PWM</div>
<div class="a t" style="left:1174.93px;top:87.20px;font-size:37.32px;color:#e8e8e8;transform-origin:0 0;transform:scaleX(1.1066);">9</div>
<div class="a t" style="left:667.86px;top:168.25px;font-size:28.31px;color:#e8e8e8;transform-origin:0 0;transform:scaleX(1.1577);">C3</div>
<div class="a t" style="left:671.50px;top:201.00px;font-size:30.00px;color:#e8e8e8;transform-origin:0 0;transform:scaleX(1.0435);">R7</div>
<div class="a t" style="left:795.8px;top:134.7px;font-size:12.5px;color:#ffffff;width:40px;text-align:center;transform:rotate(180deg) scaleX(0.85)">0805</div>
<div class="a t" style="left:795.8px;top:192.6px;font-size:12.5px;color:#ffffff;width:40px;text-align:center;transform:rotate(180deg) scaleX(0.85)">0805</div>
<div class="a t" style="left:795.8px;top:249.55px;font-size:12.5px;color:#ffffff;width:40px;text-align:center;transform:rotate(180deg) scaleX(0.85)">0805</div>
<div class="a t" style="left:795.4px;top:312.45px;font-size:12.5px;color:#ffffff;width:40px;text-align:center;transform:rotate(180deg) scaleX(0.85)">0805</div>
<div class="a t" style="left:667.95px;top:255.1px;font-size:12.5px;color:#ffffff;width:40px;text-align:center;transform:rotate(0deg) scaleX(0.85)">0805</div>
<div class="a t" style="left:667.95px;top:312px;font-size:12.5px;color:#ffffff;width:40px;text-align:center;transform:rotate(0deg) scaleX(0.85)">0805</div>
<div class="a t" style="left:875.73px;top:170.30px;font-size:35.14px;color:#e8e8e8;transform-origin:0 0;transform:rotate(-90deg) scaleX(0.8886);">R<svg class="one" viewBox="0 0 556 716" preserveAspectRatio="none"><path d="M366 716H294V168Q262 198 210 226T106 266V190Q179 155 236 105T318 0H366Z"/></svg>2</div>
<div class="a t" style="left:878.32px;top:183.00px;font-size:30.00px;color:#e8e8e8;transform-origin:0 0;transform:scaleX(1.1146);">R<svg class="one" viewBox="0 0 556 716" preserveAspectRatio="none"><path d="M366 716H294V168Q262 198 210 226T106 266V190Q179 155 236 105T318 0H366Z"/></svg><svg class="one" viewBox="0 0 556 716" preserveAspectRatio="none"><path d="M366 716H294V168Q262 198 210 226T106 266V190Q179 155 236 105T318 0H366Z"/></svg></div>
<div class="a t" style="left:880.86px;top:243.06px;font-size:29.58px;color:#e8e8e8;transform-origin:0 0;transform:scaleX(1.0733);">R<svg class="one" viewBox="0 0 556 716" preserveAspectRatio="none"><path d="M366 716H294V168Q262 198 210 226T106 266V190Q179 155 236 105T318 0H366Z"/></svg>0</div>
<div class="a t" style="left:878.64px;top:304.49px;font-size:28.73px;color:#e8e8e8;transform-origin:0 0;transform:scaleX(1.1137);">R9</div>
<div class="a t" style="left:629.38px;top:347.77px;font-size:28.17px;color:#e8e8e8;transform-origin:0 0;transform:scaleX(1.1629);">R8</div>
<div class="a t" style="left:604.00px;top:373.41px;font-size:23.94px;color:#e8e8e8;transform-origin:0 0;transform:scaleX(1.1254);">VCCSWIM</div>
<div class="a t" style="left:749.49px;top:373.41px;font-size:23.94px;color:#e8e8e8;transform-origin:0 0;transform:scaleX(1.0980);">GND</div>
<div class="a t" style="left:817.89px;top:373.41px;font-size:23.94px;color:#e8e8e8;transform-origin:0 0;transform:scaleX(1.1031);">NRST</div>
</body></html>
